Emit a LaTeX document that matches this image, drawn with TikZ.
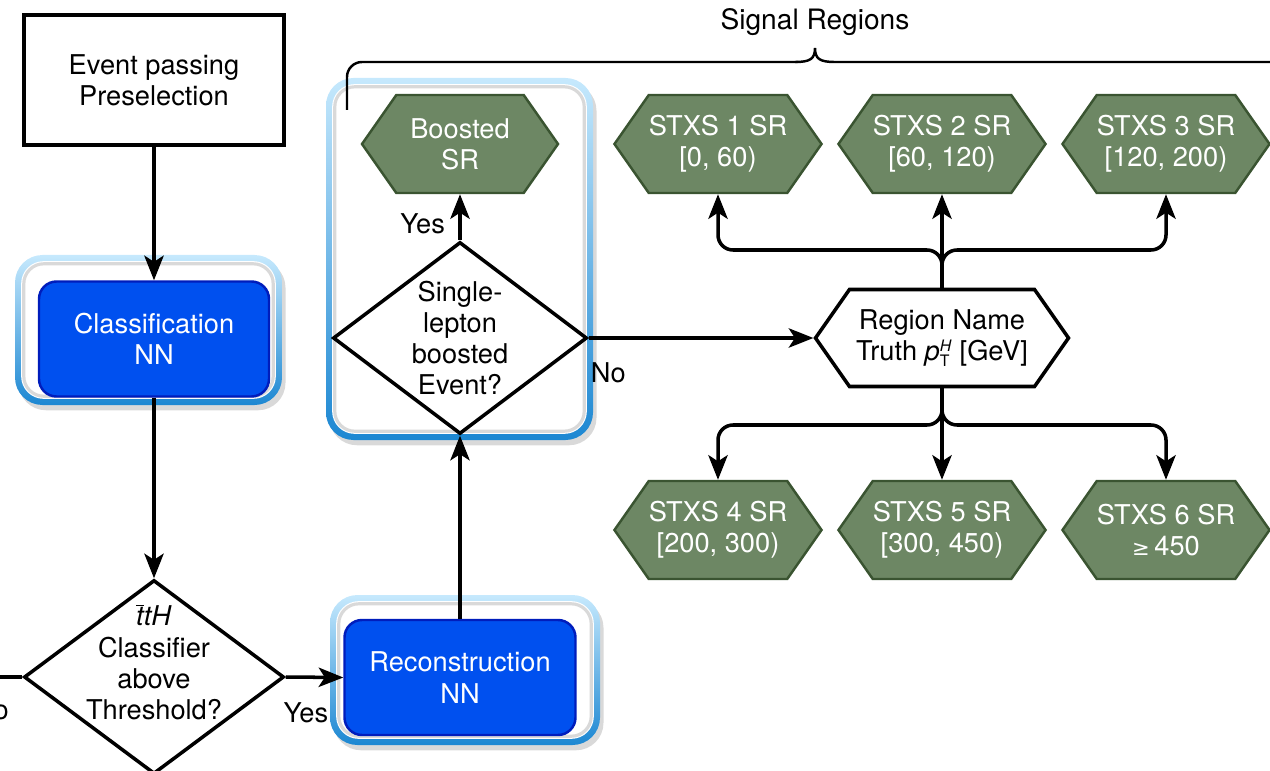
\documentclass[tikz,border=0pt]{standalone}
\usepackage{fontspec}
\setmainfont{TeX Gyre Heros}
\newfontfamily\symbfont{DejaVu Sans}
\usetikzlibrary{arrows.meta,positioning,shapes.geometric,shapes.symbols,shadows}
\definecolor{nnblue}{HTML}{0050EF}
\definecolor{nnedge}{HTML}{001DBC}
\definecolor{srgreen}{HTML}{6D8764}
\definecolor{sredge}{HTML}{3A5431}
\definecolor{glowtop}{HTML}{C6E9FD}
\definecolor{glowbot}{HTML}{1C87D2}
\newcommand{\ptH}{\textit{p}$^{\hbox{\fontsize{9}{9}\selectfont\itshape H}}_{\hbox{\fontsize{9}{9}\selectfont T}}$}
\newcommand{\ttbar}{$\overline{\hbox{\itshape t}}$\textit{tH}}

\begin{document}
\begin{tikzpicture}[
  font=\fontsize{15.5}{17.8}\selectfont,
  flow/.style={line width=2pt, -{Stealth[length=14pt,width=11pt,inset=3.5pt]}},
  wire/.style={line width=2pt},
  startbox/.style={draw, line width=2pt, align=center, minimum width=5.2cm, minimum height=2.6cm},
  nnbox/.style={draw=nnedge, fill=nnblue, line width=1.4pt, text=white, rounded corners=0.35cm,
    align=center, minimum width=4.6cm, minimum height=2.3cm},
  decision/.style={diamond, draw, line width=2pt, fill=white, inner sep=0pt},
  qtext/.style={align=center, inner sep=0pt},
  srhex/.style={signal, signal to=east and west, signal pointer angle=110, draw=sredge, fill=srgreen,
    line width=1.4pt, text=white, align=center, minimum width=3.9cm, minimum height=1.96cm, inner sep=0pt},
  namehex/.style={signal, signal to=east and west, signal pointer angle=110, draw, fill=white,
    line width=2pt, align=center, minimum width=5.06cm, minimum height=1.94cm, inner sep=0pt},
  glow/.style={rounded corners=0.55cm, inner sep=0pt,
    drop shadow={opacity=0.3, shadow xshift=2pt, shadow yshift=-3pt},
    path picture={
      \shade[top color=glowtop, bottom color=glowbot] (path picture bounding box.south west) rectangle (path picture bounding box.north east);
      \fill[white, rounded corners=0.45cm] ([xshift=3.5pt,yshift=-3.5pt]path picture bounding box.north west) rectangle ([xshift=-3.5pt,yshift=3.5pt]path picture bounding box.south east);
      \draw[black!15, line width=1.8pt, rounded corners=0.4cm] ([xshift=5pt,yshift=-5pt]path picture bounding box.north west) rectangle ([xshift=-5pt,yshift=5pt]path picture bounding box.south east);
    }},
]
\useasboundingbox (0,0) rectangle (25.4,-15.42);

% Frames behind the network steps and the boosted check
\node[glow, minimum width=5.34cm, minimum height=3.0cm] (clsframe) at (2.97,-6.6) {};
\node[glow, minimum width=5.4cm, minimum height=3.0cm] (recframe) at (9.3,-13.4) {};
\node[glow, minimum width=5.34cm, minimum height=7.24cm] (boostframe) at (9.19,-5.18) {};

% Left column
\node[startbox] (presel) at (3.08,-1.6) {Event passing\\Preselection};
\node[nnbox] (clsnn) at (3.08,-6.78) {Classification\\NN};
\node[decision, minimum width=5.2cm, minimum height=3.88cm] (tthq) at (3.08,-13.54) {};
\node[qtext, yshift=0.3cm] (tthtxt) at (tthq) {\ttbar\\Classifier\\above\\Threshold?};
\coordinate (nostub) at (-0.3,-13.54);
\node[anchor=east] (nolbl) at (0.3,-14.2) {No};

% Middle column
\node[nnbox, minimum width=4.62cm] (recnn) at (9.2,-13.55) {Reconstruction\\NN};
\node[decision, minimum width=5.08cm, minimum height=3.84cm] (boostq) at (9.2,-6.76) {};
\node[qtext] (boosttxt) at (boostq) {Single-\\lepton\\boosted\\Event?};
\node[srhex, minimum width=3.92cm] (boostsr) at (9.2,-2.88) {Boosted\\SR};

% Signal regions
\node[namehex] (regname) at (18.84,-6.76) {Region Name\\Truth \ptH\ [GeV]};
\node[srhex] (stxs1) at (14.36,-2.88) {STXS 1 SR\\{}[0, 60)};
\node[srhex] (stxs2) at (18.84,-2.88) {STXS 2 SR\\{}[60, 120)};
\node[srhex] (stxs3) at (23.32,-2.88) {STXS 3 SR\\{}[120, 200)};
\node[srhex] (stxs4) at (14.36,-10.6) {STXS 4 SR\\{}[200, 300)};
\node[srhex] (stxs5) at (18.84,-10.6) {STXS 5 SR\\{}[300, 450)};
\node[srhex] (stxs6) at (23.32,-10.6) {STXS 6 SR\\{\symbfont\fontsize{12}{14}\selectfont ≥}\,450};
\coordinate (upfork) at (18.84,-5.0);
\coordinate (downfork) at (18.84,-8.5);

% Signal Regions brace
\node (sigtitle) at (16.3,-0.44) {\fontsize{16}{18}\selectfont Signal Regions};
\draw[line width=1.4pt, rounded corners=0.3cm] (6.94,-2.2) -- (6.94,-1.24) -- (15.95,-1.24);
\draw[line width=1.4pt] (15.9,-1.24) .. controls (16.2,-1.24) and (16.3,-1.18) .. (16.3,-0.96)
  .. controls (16.3,-1.18) and (16.4,-1.24) .. (16.7,-1.24) -- (26,-1.24);

% Connectors
\draw[flow] (presel) -- (clsnn);
\draw[flow] (clsnn) -- (tthq);
\draw[wire] (tthq.west) -- (nostub);
\draw[flow] (tthq.east) -- node[pos=0.35, below=0.35cm] (yeslbl) {Yes} (recnn.west);
\draw[flow] (recnn) -- (boostq.south);
\draw[flow] (boostq.north) -- node[pos=0.35, left=0.15cm] (byeslbl) {Yes} (boostsr.south);
\draw[flow] (boostq.east) -- node[pos=0.02, anchor=north west, xshift=-0.2cm, yshift=-0.35cm] (bnolbl) {No} (regname.west);

\draw[flow, rounded corners=0.3cm] (regname.north) -- (upfork) -| (stxs1.south);
\draw[flow] (regname.north) -- (stxs2.south);
\draw[flow, rounded corners=0.3cm] (regname.north) -- (upfork) -| (stxs3.south);
\draw[flow, rounded corners=0.3cm] (regname.south) -- (downfork) -| (stxs4.north);
\draw[flow] (regname.south) -- (stxs5.north);
\draw[flow, rounded corners=0.3cm] (regname.south) -- (downfork) -| (stxs6.north);

\end{tikzpicture}
\end{document}
